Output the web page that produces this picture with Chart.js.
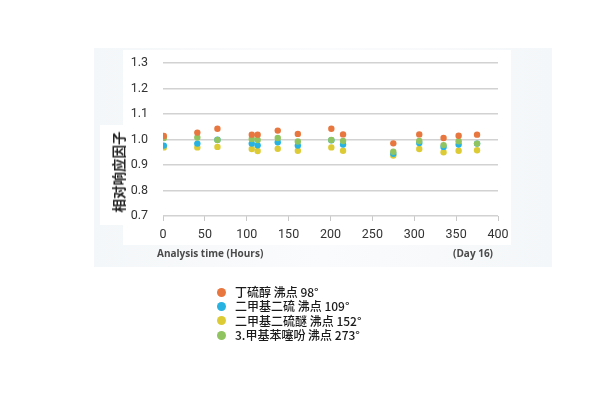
<!DOCTYPE html>
<html>
<head>
<meta charset="utf-8">
<script src="https://cdn.jsdelivr.net/npm/chart.js@4.4.1/dist/chart.umd.min.js"></script>
<style>
  html, body { margin:0; padding:0; background:#fff; }
  #wrap { position:relative; width:600px; height:400px; overflow:hidden; }
  #bgOuter { position:absolute; left:94px; top:48px; width:458px; height:219px;
    background:linear-gradient(90deg,#f4f7f9 0%,#fafbfc 50%,#f4f7f9 100%); }
  #bgInner { position:absolute; left:123px; top:50px; width:388px; height:195px; background:#fff; }
  #bgTitle { position:absolute; left:100px; top:125px; width:23px; height:100px; background:#fff; }
  canvas { position:absolute; left:0; top:0; }
  .lbl { position:absolute; white-space:nowrap; }
  #ytitle { left:118px; top:172px; transform:translate(-50%,-50%) rotate(-90deg);
    font:bold 13.5px "Noto Sans CJK SC", sans-serif; color:#222; }
  #xtitle { left:157px; top:246px; font:bold 10px "Open Sans", sans-serif; color:#4a4a4a; }
  #xnote { right:107px; top:246px; font:bold 10px "Open Sans", sans-serif; color:#4a4a4a; }
  #legend { position:absolute; left:217px; top:285px; font:500 12px "Noto Sans CJK SC", sans-serif; color:#1a1a1a; }
  #legend .row { height:14.3px; line-height:14.3px; display:flex; align-items:center; }
  #legend .dot { width:9px; height:9px; border-radius:50%; margin-right:9px; flex:none; }
</style>
</head>
<body>
<div id="wrap">
  <div id="bgOuter"></div>
  <div id="bgInner"></div>
  <div id="bgTitle"></div>
  <canvas id="c" width="600" height="400"></canvas>
  <div class="lbl" id="ytitle">相对响应因子</div>
  <div class="lbl" id="xtitle">Analysis time (Hours)</div>
  <div class="lbl" id="xnote">(Day 16)</div>
  <div id="legend"></div>
</div>
<script>
// Analysis time (hours)
const hours = [1, 41, 65, 106, 113, 137, 161, 201, 215, 275, 306, 335, 353, 375];

const seriesNames = ["丁硫醇 沸点 98°", "二甲基二硫 沸点 109°", "二甲基二硫醚 沸点 152°", "3.甲基苯噻吩 沸点 273°"];
const seriesColors = ["#E8773F", "#27B2E2", "#DDCB36", "#90C460"];

const butanethiol      = [1.014, 1.027, 1.042, 1.019, 1.019, 1.035, 1.022, 1.042, 1.020, 0.985, 1.020, 1.006, 1.015, 1.019];
const dimethylDisulfide = [0.976, 0.984, 0.999, 0.984, 0.977, 0.989, 0.976, 0.997, 0.980, 0.944, 0.986, 0.971, 0.980, 0.984];
const dimethylSulfide  = [0.969, 0.969, 0.971, 0.963, 0.955, 0.964, 0.956, 0.969, 0.956, 0.937, 0.963, 0.950, 0.956, 0.958];
const methylBenzothiophene = [1.006, 1.008, 0.998, 1.002, 0.998, 1.006, 0.992, 0.998, 0.994, 0.952, 0.994, 0.978, 0.993, 0.984];

const seriesValues = [butanethiol, dimethylDisulfide, dimethylSulfide, methylBenzothiophene];
const drawOrder = [0, 2, 3, 1]; // lower = drawn on top

const yTicks = [0.7, 0.8, 0.9, 1.0, 1.1, 1.2, 1.3];
const xTicks = [0, 50, 100, 150, 200, 250, 300, 350, 400];

// HTML legend
const lg = document.getElementById('legend');
seriesNames.forEach((n, i) => {
  const r = document.createElement('div'); r.className = 'row';
  const d = document.createElement('span'); d.className = 'dot'; d.style.background = seriesColors[i];
  const t = document.createElement('span'); t.textContent = n;
  r.appendChild(d); r.appendChild(t); lg.appendChild(r);
});

const datasets = seriesNames.map((n, i) => ({
  label: n,
  data: hours.map((h, k) => ({ x: h, y: seriesValues[i][k] })),
  backgroundColor: seriesColors[i],
  borderWidth: 0,
  pointRadius: 3.2,
  pointHoverRadius: 3.2,
  order: drawOrder[i]
}));

new Chart(document.getElementById('c'), {
  type: 'scatter',
  data: { datasets },
  options: {
    responsive: false,
    animation: false,
    events: [],
    layout: { padding: { left: 0, right: 102, top: 63, bottom: 154 } },
    plugins: { legend: { display: false }, tooltip: { enabled: false }, title: { display: false } },
    scales: {
      x: {
        type: 'linear', min: 0, max: 400,
        afterFit: s => { s.height = 30; },
        afterBuildTicks: s => { s.ticks = xTicks.map(v => ({ value: v })); },
        ticks: { color: '#333', padding: 6, font: { family: 'Roboto', size: 12.5 }, maxRotation: 0 },
        grid: { drawOnChartArea: false, drawTicks: true, tickLength: 5, color: '#c8c8c8', lineWidth: 1 },
        border: { display: false }
      },
      y: {
        min: 0.7, max: 1.3,
        afterFit: s => { s.width = 163; },
        afterBuildTicks: s => { s.ticks = yTicks.map(v => ({ value: v })); },
        ticks: { color: '#333', padding: 15, font: { family: 'Roboto', size: 12.5 }, callback: v => Number(v).toFixed(1) },
        grid: { color: '#d2d2d2', lineWidth: 1.5, drawTicks: false },
        border: { display: false }
      }
    }
  }
});
</script>
</body>
</html>
